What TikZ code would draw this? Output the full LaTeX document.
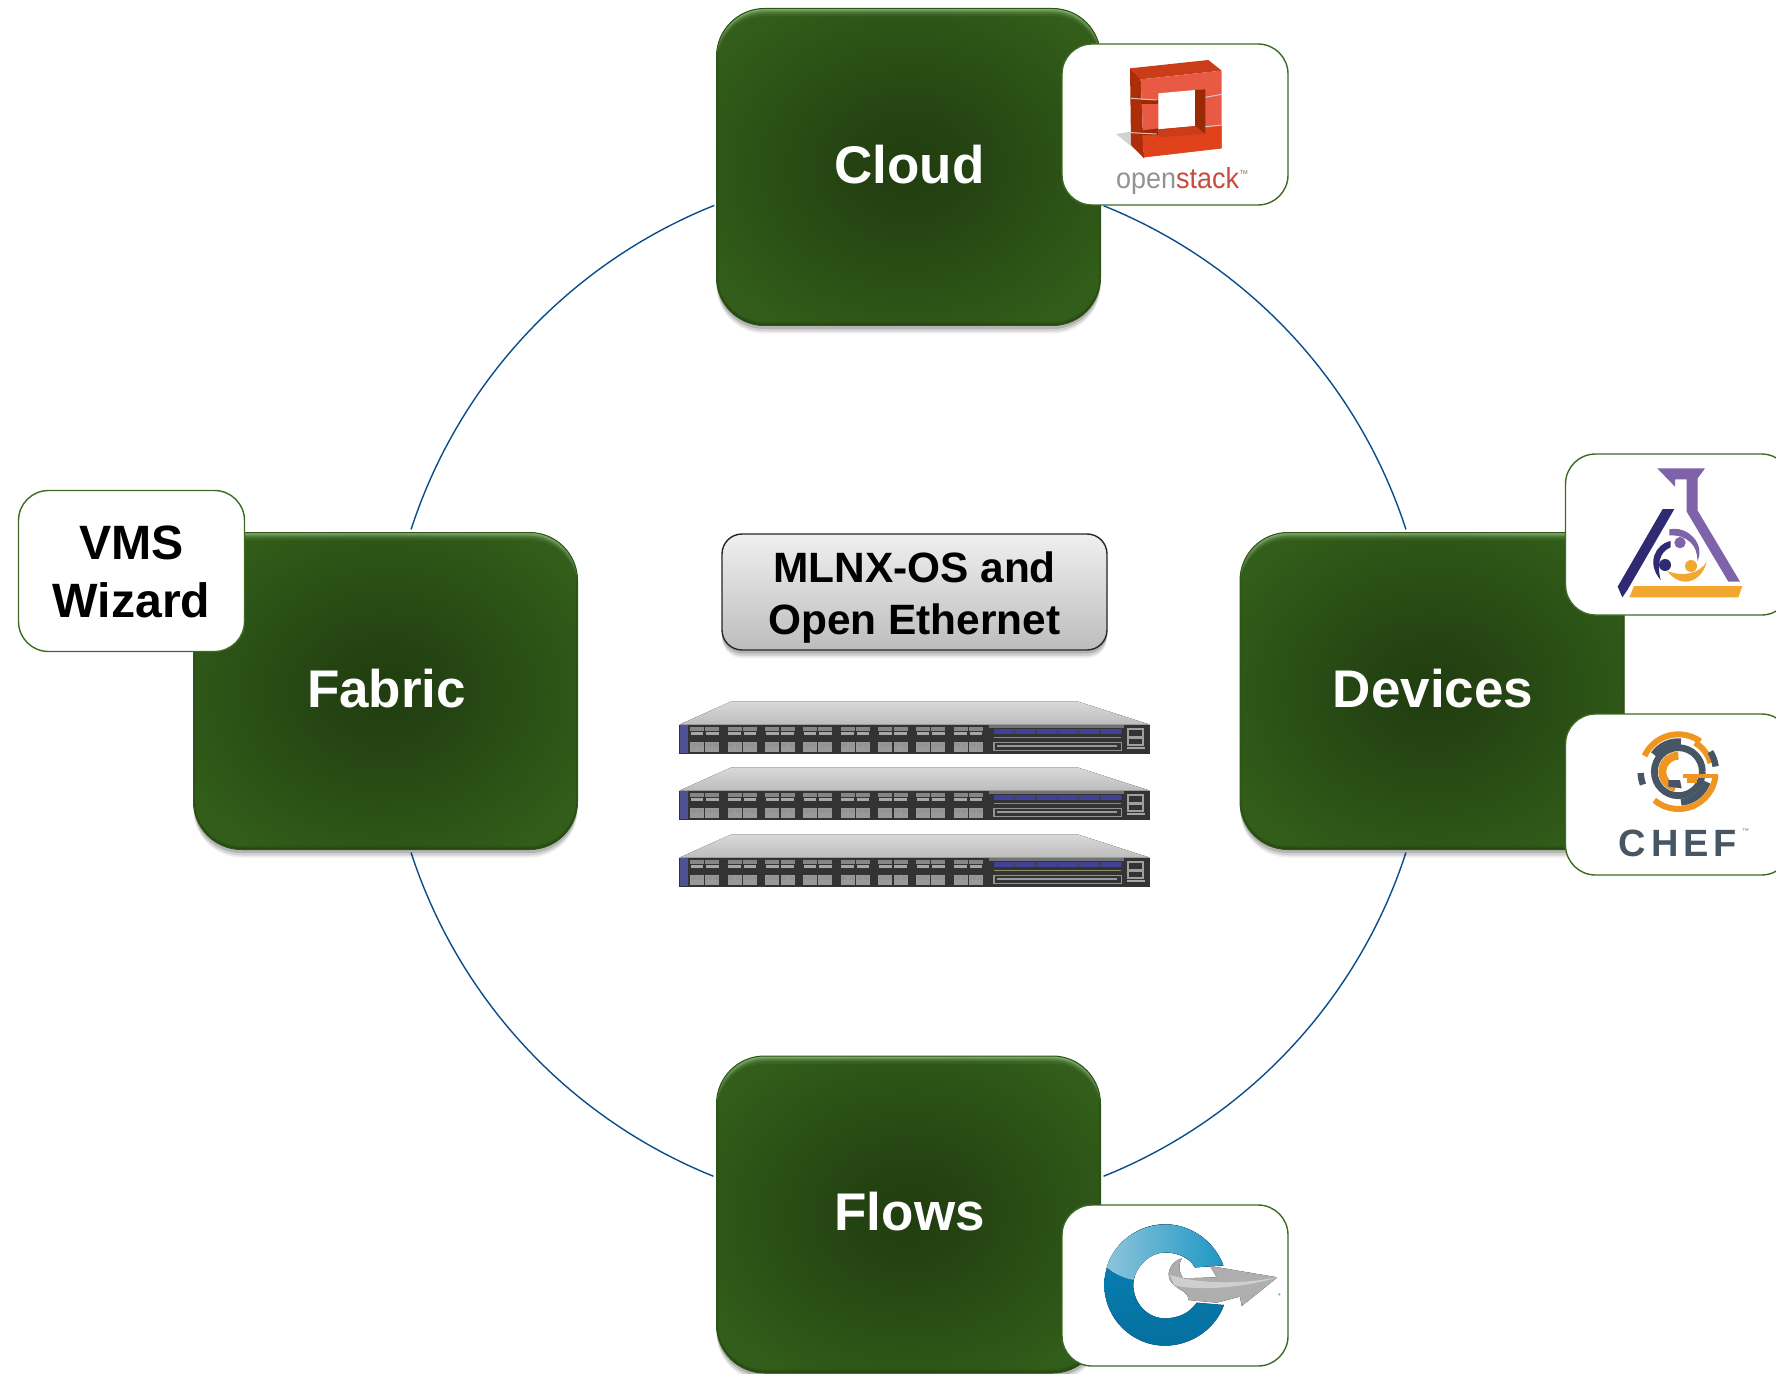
\documentclass[tikz,border=0pt]{standalone}
\usepackage{fontspec}
\setmainfont{Liberation Sans}
\usetikzlibrary{shadows,calc}
\pgfdeclareradialshading{greenglow}{\pgfpoint{0bp}{0bp}}{%
  rgb(0bp)=(0.13,0.24,0.06);rgb(7bp)=(0.14,0.26,0.07);rgb(30bp)=(0.195,0.365,0.10);rgb(50bp)=(0.20,0.375,0.105);rgb(80bp)=(0.20,0.375,0.105)}
\definecolor{gedge}{HTML}{2E5518}
\definecolor{ghigh}{HTML}{9CC98A}
\definecolor{gdark}{HTML}{1D3A0B}
\definecolor{tagline}{HTML}{3E6A24}
\definecolor{ringblue}{HTML}{0B4C8C}
\newcommand\bevelfill[4]{\fill[#3,opacity=#4,even odd rule]
  ([shift={(-9pt,9pt)}]path picture bounding box.north west) rectangle
  ([shift={(9pt,-9pt)}]path picture bounding box.south east)
  [rounded corners=24pt]
  ([shift={(#1,#2)}]path picture bounding box.north west) rectangle
  ([shift={(#1,#2)}]path picture bounding box.south east);}
\tikzset{
  softshadow/.style={
    general shadow={fill=black,opacity=.07,shadow yshift=-4pt},
    general shadow={fill=black,opacity=.11,shadow yshift=-3pt},
    general shadow={fill=black,opacity=.15,shadow yshift=-1.8pt}},
  greenbox/.style={softshadow,shade,shading=greenglow,draw=gedge,line width=.5pt,
    rounded corners=24pt,minimum width=192pt,minimum height=158.5pt,inner sep=0pt,
    text=white,font=\fontsize{26.5}{30}\selectfont\bfseries,text height=20pt,text depth=3.8pt,
    execute at begin node={\hspace*{1.1pt}},
    path picture={
      \bevelfill{0pt}{-.8pt}{ghigh}{.5}
      \bevelfill{0pt}{-1.6pt}{ghigh}{.35}
      \bevelfill{0pt}{-2.6pt}{ghigh}{.2}
      \bevelfill{0pt}{-3.8pt}{ghigh}{.1}
      \bevelfill{0pt}{.8pt}{gdark}{.4}
      \bevelfill{0pt}{1.8pt}{gdark}{.25}
      \bevelfill{.8pt}{0pt}{gdark}{.25}
      \bevelfill{-.8pt}{0pt}{gdark}{.25}
    }},
  tagbox/.style={fill=white,draw=tagline,line width=.7pt,rounded corners=15pt,
    minimum width=113pt,minimum height=80.5pt,inner sep=0pt},
  osbox/.style={softshadow,top color=gray!12,bottom color=gray!52,draw=black!85,line width=.7pt,
    rounded corners=10pt,minimum width=192.5pt,minimum height=58pt,inner sep=0pt,align=center,
    font=\fontsize{21.2}{26}\selectfont\bfseries},
  ringline/.style={draw=ringblue,line width=.7pt},
  zoomed/.style={x=.166667pt,y=-.166667pt},
}
\newcommand\larc[5]{\draw[#1,line width=#2] (415,995) ++(#4:#3) arc[start angle=#4,end angle=#5,radius=#3];}
\newcommand\switchunit[1]{%
\begin{scope}[shift={(660,#1)},zoomed]
  \fill[top color=gray!30,bottom color=gray!52] (58,104) -- (212,35) -- (1255,35) -- (1470,104) -- cycle;
  \fill[black!80] (58,104) rectangle (1470,193);
  \fill[blue!30!gray!90!black] (60,106) rectangle (84,190);
  \foreach \i in {0,...,7}{
    \begin{scope}[xshift={\i*113*.166667pt}]
      \fill[gray!95] (90,110) rectangle (132,124);
      \fill[gray!95] (136,110) rectangle (178,124);
      \fill[gray!70] (92,127) rectangle (130,136);
      \fill[gray!70] (138,127) rectangle (176,136);
      \fill[gray!100!black!80] (90,156) rectangle (132,187);
      \fill[gray!100!black!80] (136,156) rectangle (178,187);
      \fill[gray!85] (92,158) rectangle (110,172);
      \fill[gray!85] (114,158) rectangle (130,172);
      \fill[gray!85] (138,158) rectangle (156,172);
      \fill[gray!85] (160,158) rectangle (176,172);
    \end{scope}}
  \fill[black!55] (988,106) rectangle (1392,114);
  \fill[blue!40!gray!85!black] (1002,117) rectangle (1384,133);
  \foreach \i in {0,...,5}{\fill[black!75] ({1062+\i*64},117) rectangle ({1066+\i*64},133);}
  \fill[gray!70!olive] (1002,140) rectangle (1384,145);
  \draw[gray!85,line width=.6pt] (1002,158) rectangle (1384,182);
  \fill[gray!80] (1010,166) rectangle (1370,170);
  \draw[gray!75,line width=1pt] (1405,116) rectangle (1450,140);
  \draw[gray!75,line width=1pt] (1405,145) rectangle (1450,165);
  \fill[gray!70] (1400,170) rectangle (1455,176);
\end{scope}}
\begin{document}
\begin{tikzpicture}[x=.5pt,y=-.5pt]
\useasboundingbox (0,0) rectangle (1776,1374);
\clip (0,0) rectangle (1776,1374);

% ring of four arcs
\coordinate (ringc) at (908.5,691);
\coordinate (rtr) at ($(ringc)+(-68.1:523)$);
\coordinate (rbr) at ($(ringc)+(18:523)$);
\coordinate (rbl) at ($(ringc)+(111.9:523)$);
\coordinate (rtl) at ($(ringc)+(198:523)$);
\draw[ringline] (rtr) arc[start angle=-68.1,end angle=-18,radius=523];
\draw[ringline] (rbr) arc[start angle=18,end angle=68.1,radius=523];
\draw[ringline] (rbl) arc[start angle=111.9,end angle=162,radius=523];
\draw[ringline] (rtl) arc[start angle=198,end angle=248.2,radius=523];

% main boxes
\node[greenbox] (cloud) at (908.5,167) {Cloud};
\node[greenbox] (fabric) at (385.5,691) {Fabric};
\node[greenbox] (devices) at (1432,691) {Devices};
\node[greenbox] (flows) at (908.5,1214.5) {Flows};

% tag boxes
\node[tagbox] (ostag) at (1175,124.5) {};
\node[tagbox] (flowtag) at (1175,1285.5) {};
\node[tagbox] (flasktag) at (1678.5,534.5) {};
\node[tagbox] (cheftag) at (1678.5,794.5) {};
\node[tagbox,align=center,font=\fontsize{24.1}{29}\selectfont\bfseries] (vms) at (131.5,571) {VMS\rule{0pt}{18pt}\\Wizard};

% centre label
\node[osbox] (os) at (914.5,592) {MLNX-OS and\rule{0pt}{21pt}\\Open Ethernet};

% switches
\switchunit{690}
\switchunit{756}
\switchunit{823}

% openstack logo
\begin{scope}[shift={(1050,0)},zoomed]
  \definecolor{osfront}{HTML}{E95A44}
  \definecolor{oslow}{HTML}{E0431C}
  \definecolor{ostop}{HTML}{CB3C18}
  \definecolor{osleft}{HTML}{AC2D08}
  \definecolor{osin}{HTML}{9A2A06}
  \fill[gray!35] (198,402) -- (245,395) -- (285,472) -- cycle;
  \fill[ostop] (240,205) -- (475,180) -- (515,212) -- (272,238) -- cycle;
  \fill[osleft] (240,205) -- (272,238) -- (282,475) -- (243,435) -- cycle;
  \fill[osfront] (272,238) -- (515,212) -- (515,445) -- (282,472) -- cycle;
  \fill[oslow] (277,405) -- (515,378) -- (515,445) -- (282,472) -- cycle;
  \fill[osin] (272,300) -- (325,300) -- (325,312) -- (272,312) -- cycle;
  \fill[osin] (272,392) -- (325,385) -- (325,405) -- (272,405) -- cycle;
  \fill[white] (325,280) -- (435,270) -- (435,378) -- (325,388) -- cycle;
  \fill[osin] (435,270) -- (466,268) -- (466,402) -- (435,378) -- cycle;
  \fill[ostop] (325,388) -- (435,378) -- (466,402) -- (325,412) -- cycle;
  \draw[gray!40,line width=.5pt] (243,295) -- (320,300) (243,398) -- (320,402) (466,292) -- (515,283) (466,380) -- (515,375);
  \node[inner sep=0pt,anchor=base west,xscale=.93,transform shape] (ostext) at (197,565)
    {\fontsize{14.5}{18}\selectfont\textcolor{gray!85}{open}\textcolor[HTML]{C94A3F}{stack}\raisebox{5.5pt}{\textcolor{gray}{\fontsize{5}{5}\selectfont ™}}};
\end{scope}

% flask logo
\begin{scope}[shift={(1540,440)},zoomed]
  \definecolor{fpurple}{HTML}{7E62AA}
  \definecolor{fnavy}{HTML}{2F2A72}
  \definecolor{forange}{HTML}{F2A72E}
  \fill[fpurple] (352,85) -- (495,85) -- (473,115) -- (473,212) -- (600,425) -- (565,425) -- (440,215) -- (440,118) -- (405,118) -- (405,140) -- cycle;
  \fill[fnavy] (368,207) -- (403,207) -- (262,450) -- (247,472) -- (233,440) -- cycle;
  \fill[forange] (282,438) -- (607,438) -- (595,472) -- (268,472) -- cycle;
  \fill[fpurple] (420,308) circle[radius=17];
  \fill[fnavy] (375,375) circle[radius=18];
  \fill[forange] (453,378) circle[radius=18];
  \fill[fpurple] (388,268) .. controls (440,256) and (498,310) .. (472,364) .. controls (474,315) and (440,284) .. (388,286) -- cycle;
  \fill[fnavy] (392,303) .. controls (345,313) and (318,370) .. (362,420) .. controls (350,375) and (358,335) .. (392,322) -- cycle;
  \fill[forange] (382,393) .. controls (420,446) and (484,430) .. (500,365) .. controls (480,400) and (430,412) .. (382,393) -- cycle;
\end{scope}

% chef logo
\begin{scope}[shift={(1540,440)},zoomed]
  \definecolor{chefo}{HTML}{F0951F}
  \definecolor{chefg}{HTML}{465665}
  \larc{chefo}{3pt}{112}{205}{306}
  \larc{chefo}{3pt}{100}{300}{345}
  \larc{chefo}{3pt}{112}{5}{130}
  \larc{chefg}{3.4pt}{72}{0}{360}
  \larc{chefg}{3.2pt}{113}{-32}{-8}
  \larc{chefg}{3.2pt}{113}{160}{178}
  \larc{chefg}{3.4pt}{90}{215}{275}
  \larc{chefg}{3.4pt}{92}{20}{85}
  \larc{chefo}{4pt}{48}{100}{270}
  \fill[chefo] (430,1003) rectangle (535,1015);
  \fill[chefo] (440,1015) rectangle (470,1030);
  \fill[chefg] (385,1020) -- (420,1020) -- (425,1045) -- (385,1040) -- cycle;
  \node[inner sep=0pt,anchor=base west,text=chefg] (cheftext) at (235,1250)
    {\fontsize{19}{20}\selectfont\bfseries\addfontfeature{LetterSpace=13}CHEF};
  \node[inner sep=0pt,anchor=base west,text=gray] (cheftm) at (605,1180) {\fontsize{3.5}{4}\selectfont ™};
\end{scope}

% circular arrow logo
\begin{scope}[shift={(1050,1190)},zoomed]
  \definecolor{rtop}{HTML}{1E97C4}
  \definecolor{rbot}{HTML}{04709F}
  \definecolor{rmid}{HTML}{0A82B8}
  \definecolor{rlite}{HTML}{8CC4DC}
  \fill[top color=rmid,bottom color=rbot,even odd rule]
    (520,226) .. controls (490,150) and (420,103) .. (345,103)
    .. controls (245,103) and (163,185) .. (163,285)
    .. controls (163,385) and (245,467) .. (345,467)
    .. controls (420,467) and (495,420) .. (522,345)
    -- (440,338) .. controls (420,368) and (385,385) .. (345,385)
    .. controls (293,385) and (250,340) .. (250,285)
    .. controls (250,230) and (293,187) .. (345,187)
    .. controls (385,187) and (420,205) .. (435,232) -- cycle;
  \fill[left color=rlite,right color=rtop] (170,232)
    .. controls (195,150) and (270,105) .. (345,103)
    .. controls (420,103) and (490,150) .. (520,226) -- (435,232)
    .. controls (420,205) and (385,187) .. (345,187)
    .. controls (300,190) and (265,220) .. (250,270)
    .. controls (220,265) and (190,250) .. (170,232) -- cycle;
  \fill[left color=gray!65,right color=gray!62] (395,205) .. controls (360,215) and (340,260) .. (372,285)
    .. controls (395,305) and (415,305) .. (415,330) -- (500,338) -- (570,320) -- (575,348)
    -- (682,262) -- (480,228) -- (500,262) -- (400,265) .. controls (385,245) and (385,225) .. (395,205) -- cycle;
  \fill[gray!38] (372,285) .. controls (420,300) and (560,300) .. (682,262) .. controls (560,285) and (440,280) .. (360,255) -- cycle;
  \fill[rtop!60] (688,313) circle[radius=4];
\end{scope}
\end{tikzpicture}
\end{document}
